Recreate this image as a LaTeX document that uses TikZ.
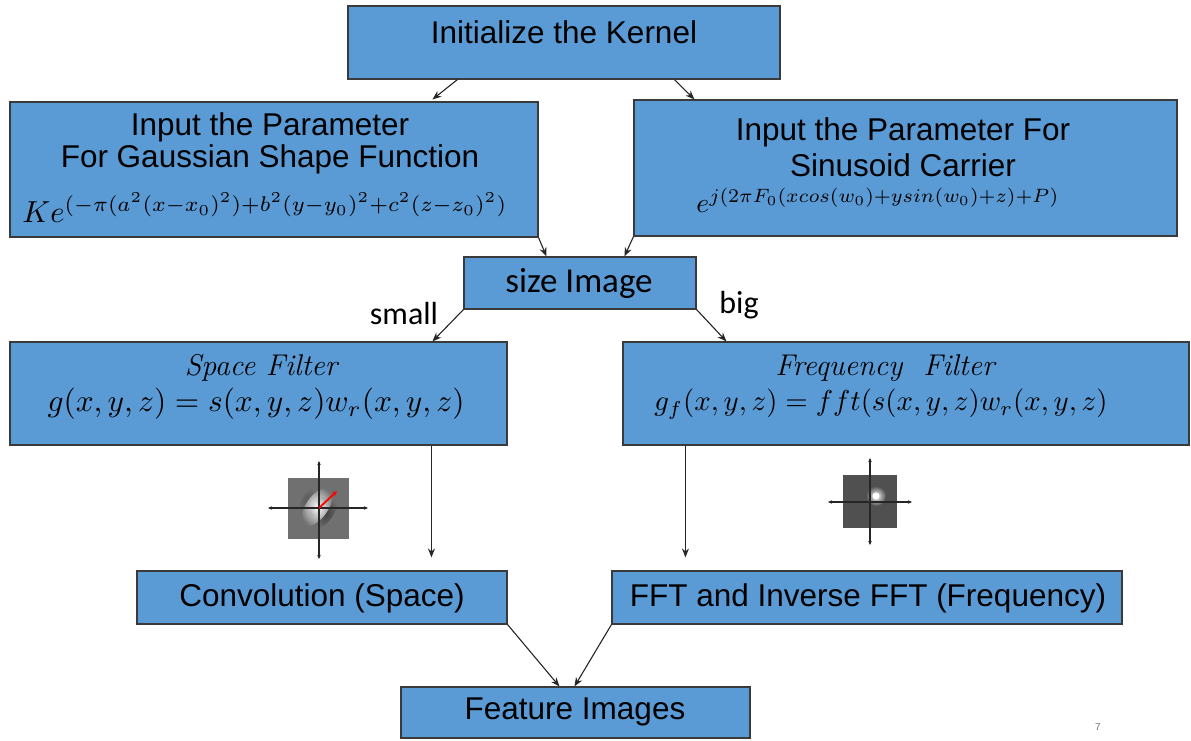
\documentclass[tikz,border=0pt]{standalone}
\usepackage{amsmath}
\usepackage{graphicx}
\usepackage{fontspec}
\newfontfamily\arial{Liberation Sans}
\newfontfamily\calibri{Carlito}
\usetikzlibrary{arrows.meta,calc}
\definecolor{boxblue}{HTML}{5B9BD5}
\definecolor{edgec}{HTML}{3A3A3A}
\definecolor{imggray}{HTML}{707070}
\definecolor{imgdark}{HTML}{505050}
\begin{document}
\begin{tikzpicture}[x=1pt,y=-1pt,
  box/.style={draw=edgec, fill=boxblue, line width=1.1pt, inner sep=0pt},
  lbl/.style={font=\arial\fontsize{31.5}{34}\selectfont, inner sep=0pt, text=black},
  clbl/.style={font=\calibri\fontsize{32}{36}\selectfont, inner sep=0pt, text=black},
  itl/.style={font=\rmfamily\itshape\fontsize{30}{34}\selectfont, inner sep=0pt},
  frm/.style={inner sep=0pt},
  conn/.style={draw=black!85, line width=1.1pt, -{Stealth[length=9pt,width=7pt]}},
  axis/.style={draw=black!85, line width=1.1pt, {Stealth[length=4pt,width=3.5pt]}-{Stealth[length=4pt,width=3.5pt]}}
]
\path[use as bounding box] (0,0) rectangle (1191,740);

% boxes
\node[box, minimum width=432pt, minimum height=73pt] (init) at (564,42.5) {};
\node[box, minimum width=528pt, minimum height=135pt] (gauss) at (274,169.5) {};
\node[box, minimum width=543pt, minimum height=136pt] (sinus) at (905.5,168) {};
\node[box, minimum width=232pt, minimum height=52pt] (size) at (580,283) {};
\node[box, minimum width=497pt, minimum height=103pt] (space) at (258.5,393.5) {};
\node[box, minimum width=566pt, minimum height=103pt] (freq) at (906,393.5) {};
\node[box, minimum width=370pt, minimum height=53pt] (conv) at (322,597.5) {};
\node[box, minimum width=510pt, minimum height=53pt] (fft) at (867,597.5) {};
\node[box, minimum width=349pt, minimum height=51pt] (feat) at (575.5,712.5) {};

% texts
\node[lbl] (tinit) at (564,32) {Initialize the Kernel};
\node[lbl] (tg1) at (270,127) {Input the Parameter};
\node[lbl] (tg2) at (270,159) {For Gaussian Shape Function};
\node[frm] (tg3) at (265,208) {\resizebox{485pt}{!}{$Ke^{(-\pi(a^2(x-x_0)^2)+b^2(y-y_0)^2+c^2(z-z_0)^2)}$}};
\node[lbl] (ts1) at (903,132) {Input the Parameter For};
\node[lbl] (ts2) at (903,165) {Sinusoid Carrier};
\node[frm] (ts3) at (878,200) {\resizebox{363pt}{!}{$e^{j(2\pi F_0(xcos(w_0)+ysin(w_0)+z)+P)}$}};
\node[clbl, font=\calibri\fontsize{35}{38}\selectfont] (tsize) at (579,283) {size Image};
\node[clbl] (tsmall) at (404,313) {small};
\node[clbl] (tbig) at (739,305) {big};
\node[itl] (tsp1) at (261,368) {Space Filter};
\node[frm] (tsp2) at (256,404) {\resizebox{417pt}{!}{$g(x,y,z)=s(x,y,z)w_r(x,y,z)$}};
\node[itl] (tfr1) at (885,368) {Frequency\ \ Filter};
\node[frm] (tfr2) at (881,404) {\resizebox{453pt}{!}{$g_f(x,y,z)=fft(s(x,y,z)w_r(x,y,z)$}};
\node[lbl] (tconv) at (322,598) {Convolution (Space)};
\node[lbl] (tfft) at (868,598) {FFT and Inverse FFT (Frequency)};
\node[lbl] (tfeat) at (575,712) {Feature Images};
\node[font=\arial\fontsize{10}{12}\selectfont, text=black!55, inner sep=0pt] (pg) at (1098,727) {7};

% connectors
\draw[conn] ($(init.south west)+(110,0)$) -- ($(gauss.north west)+(423,-2)$);
\draw[conn] ($(init.south west)+(327,0)$) -- ($(sinus.north west)+(61,0)$);
\draw[conn] (gauss.south east) -- ($(size.north west)+(83,0)$);
\draw[conn] (sinus.south west) -- ($(size.north west)+(161,0)$);
\draw[conn] (size.south west) -- ($(space.north west)+(423,0)$);
\draw[conn] (size.south east) -- ($(freq.north west)+(104,0)$);
\coordinate (convin) at ($(conv.north west)+(295,-13)$);
\coordinate (fftin) at ($(fft.north west)+(74,-13)$);
\draw[conn] ($(space.south west)+(422,0)$) -- (convin);
\draw[conn] ($(freq.south west)+(63,0)$) -- (fftin);
\draw[conn] (conv.south east) -- ($(feat.north west)+(159,0)$);
\draw[conn] (fft.south west) -- ($(feat.north west)+(174,0)$);

% left mini image (space kernel)
\fill[imggray] (288,478) rectangle (349,539);
\begin{scope}
  \clip (288,478) rectangle (349,539);
  \begin{scope}[shift={(317,507)}, rotate=55]
    \shade[inner color=black!75, outer color=imggray] (0,11) ellipse [x radius=18, y radius=7];
    \shade[inner color=black!65, outer color=imggray] (0,-11) ellipse [x radius=15, y radius=6];
    \shade[inner color=white, outer color=imggray] (0,0) ellipse [x radius=22, y radius=11];
    \shade[inner color=white, outer color=white!40!imggray] (0,0) ellipse [x radius=12, y radius=5];
  \end{scope}
\end{scope}
\draw[axis] (268,508) -- (368,508);
\draw[axis] (319,461) -- (319,559);
\draw[red, line width=1.8pt, -{Stealth[length=5pt,width=4.5pt]}] (319,508) -- (337,491);

% right mini image (frequency kernel)
\fill[imgdark] (843,475) rectangle (897,528);
\shade[inner color=white, outer color=imgdark] (876,496) circle (10);
\fill[white] (876,496) circle (3.5);
\draw[axis] (828,502) -- (912,502);
\draw[axis] (870,458) -- (870,545);
\end{tikzpicture}
\end{document}
